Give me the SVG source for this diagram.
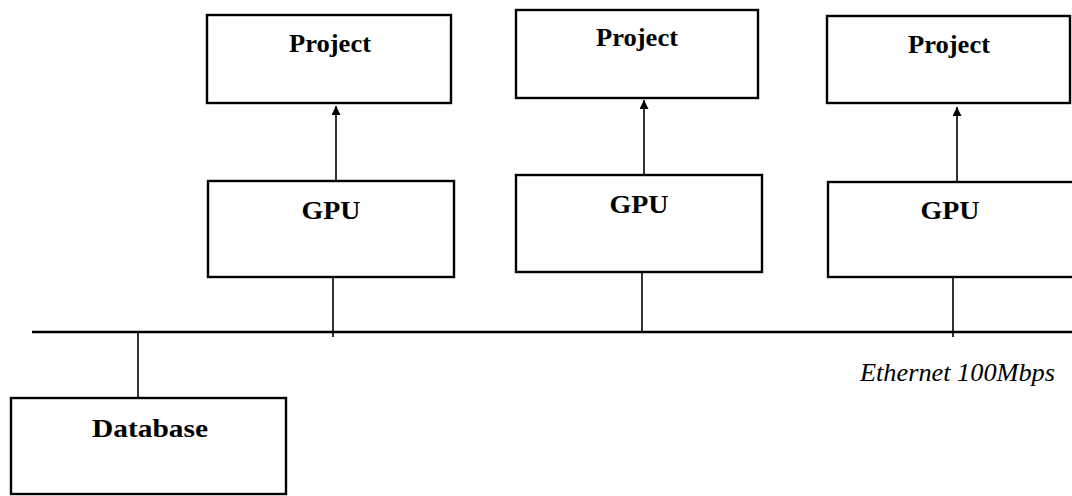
<svg xmlns="http://www.w3.org/2000/svg" width="1072" height="496" viewBox="0 0 1072 496">
<style>
.box{fill:#fff;stroke:#000;stroke-width:2.4}
.lbl{font-family:"Liberation Serif","Times New Roman",serif;font-weight:bold;font-size:25px;fill:#000;text-anchor:middle}
.eth{font-family:"Liberation Serif","Times New Roman",serif;font-style:italic;font-size:25px;fill:#000}
.ln{stroke:#000;stroke-width:1.6;fill:none}
</style>
<defs>
<marker id="ah" viewBox="0 0 10 10" refX="10" refY="5" markerWidth="9" markerHeight="9" markerUnits="userSpaceOnUse" orient="auto">
<path d="M0,0 L10,5 L0,10 z" fill="#000"/>
</marker>
</defs>
<rect width="1072" height="496" fill="#fff"/>
<g id="connectors">
<line class="ln" x1="336" y1="181" x2="336" y2="106" marker-end="url(#ah)"/>
<line class="ln" x1="644" y1="175" x2="644" y2="100" marker-end="url(#ah)"/>
<line class="ln" x1="957" y1="182" x2="957" y2="107" marker-end="url(#ah)"/>
<line class="ln" x1="333" y1="277" x2="333" y2="337"/>
<line class="ln" x1="642" y1="272" x2="642" y2="332"/>
<line class="ln" x1="953" y1="277" x2="953" y2="337"/>
<line class="ln" x1="138" y1="333" x2="138" y2="405"/>
<line x1="32" y1="332" x2="1072" y2="332" stroke="#000" stroke-width="2.4"/>
</g>
<g id="project1"><rect class="box" x="207" y="15" width="244" height="88"/><text class="lbl" x="330" y="52" textLength="82" lengthAdjust="spacingAndGlyphs">Project</text></g>
<g id="project2"><rect class="box" x="516" y="10" width="242" height="88"/><text class="lbl" x="637" y="46" textLength="82" lengthAdjust="spacingAndGlyphs">Project</text></g>
<g id="project3"><rect class="box" x="827" y="16" width="243" height="87"/><text class="lbl" x="949" y="53" textLength="82" lengthAdjust="spacingAndGlyphs">Project</text></g>
<g id="gpu1"><rect class="box" x="208" y="181" width="246" height="96"/><text class="lbl" x="331" y="219" textLength="59" lengthAdjust="spacingAndGlyphs">GPU</text></g>
<g id="gpu2"><rect class="box" x="516" y="175" width="246" height="97"/><text class="lbl" x="639" y="213" textLength="59" lengthAdjust="spacingAndGlyphs">GPU</text></g>
<g id="gpu3"><rect class="box" x="828" y="182" width="260" height="95"/><text class="lbl" x="950" y="219" textLength="59" lengthAdjust="spacingAndGlyphs">GPU</text></g>
<g id="database"><rect class="box" x="11" y="398" width="275" height="96"/><text class="lbl" x="150" y="437" textLength="116" lengthAdjust="spacingAndGlyphs">Database</text></g>
<g id="ethernet-label"><text class="eth" x="860" y="381" textLength="195" lengthAdjust="spacingAndGlyphs">Ethernet 100Mbps</text></g>
</svg>
